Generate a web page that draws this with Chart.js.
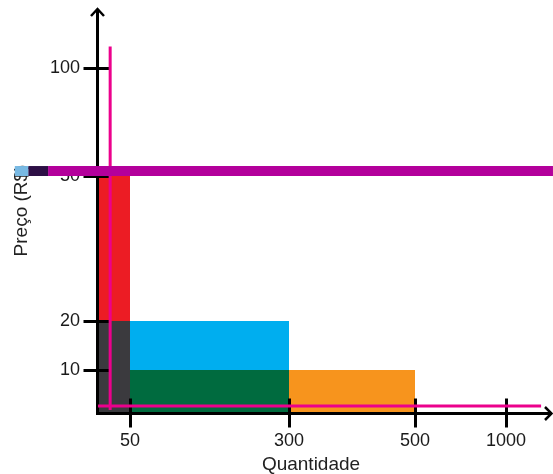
<!DOCTYPE html>
<html lang="pt-BR">
<head>
<meta charset="utf-8">
<title>Preço x Quantidade</title>
<script src="https://cdn.jsdelivr.net/npm/chart.js@4.4.1/dist/chart.umd.min.js"></script>
<style>
  html, body { margin: 0; padding: 0; background: #fff; }
  canvas { display: block; }
</style>
</head>
<body>
<canvas id="grafico" width="553" height="474"></canvas>
<script>
// Marcas dos eixos
const xTickValues = [50, 300, 500, 1000];
const yTickValues = [10, 20, 50, 100];

// Blocos de preço: quantidade inicial/final e preço inferior/superior
const blockNames = ['Vermelho', 'Cinza', 'Azul', 'Verde', 'Laranja'];
const blockQtyFrom = [0, 0, 50, 50, 300];
const blockQtyTo = [50, 50, 300, 300, 500];
const blockPriceFrom = [0, 0, 10, 0, 0];
const blockPriceTo = [50, 20, 20, 10, 10];

// Linhas rosa
const pinkVertQty = [19, 19];
const pinkVertPrice = [0.7, 110];
const pinkHorQty = [0, 1195];
const pinkHorPrice = [1.6, 1.6];

// Faixa magenta (pedaços consecutivos)
const bandQty = [-130, -109, -78, 1261];
const bandPrice = [52.3, 52.3];

// cores
const blockColors = ['#ec1c24', '#3b3a3e', '#00aeef', '#006b3f', '#f7941d'];
const blockOrder = [5, 3, 4, 4, 4];
const bandColors = ['#78b9e3', '#2d0f45', '#b3009b'];
const pink = '#ec008c';
const fontFamily = "'Liberation Sans', Arial, Helvetica, sans-serif";

// escala linear por trechos (os eixos do original não são lineares)
function pieceDecimal(value, breaks) {
    let i = 1;
    while (i < breaks.length - 1 && value > breaks[i][0]) i++;
    const [v0, d0] = breaks[i - 1];
    const [v1, d1] = breaks[i];
    return d0 + (value - v0) / (v1 - v0) * (d1 - d0);
}

function pieceValue(decimal, breaks) {
    let i = 1;
    while (i < breaks.length - 1 && decimal > breaks[i][1]) i++;
    const [v0, d0] = breaks[i - 1];
    const [v1, d1] = breaks[i];
    return v0 + (decimal - d0) / (d1 - d0) * (v1 - v0);
}

class PiecewiseScale extends Chart.LinearScale {
    static id = 'piecewise';
    static defaults = {};

    buildTicks() {
        return this.options.tickValues.map(v => ({ value: v }));
    }

    getPixelForValue(value) {
        return this.getPixelForDecimal(pieceDecimal(value, this.options.breaks));
    }

    getValueForPixel(pixel) {
        return pieceValue(this.getDecimalForPixel(pixel), this.options.breaks);
    }
}
Chart.register(PiecewiseScale);

function fixSize(scale, prop, size) {
    scale[prop] = size;
    // sem folga extra para os rótulos nas pontas
    scale.paddingTop = 0;
    scale.paddingBottom = 0;
    scale.paddingLeft = 0;
    scale.paddingRight = 0;
}

function drawAxes(chart) {
    const { ctx, chartArea, scales } = chart;
    const ox = chartArea.left - 0.5;
    const oy = chartArea.bottom + 0.5;

    ctx.save();
    ctx.strokeStyle = '#000';
    ctx.lineCap = 'butt';
    ctx.lineWidth = 3;

    ctx.beginPath();
    ctx.moveTo(ox, oy + 1.5);
    ctx.lineTo(ox, chartArea.top + 1);
    ctx.moveTo(ox - 1.5, oy);
    ctx.lineTo(chart.width - 1, oy);
    ctx.stroke();

    // marcas cruzando os eixos
    scales.y.ticks.forEach(t => {
        const py = Math.round(scales.y.getPixelForValue(t.value)) + 0.5;
        ctx.beginPath();
        ctx.moveTo(ox - 14, py);
        ctx.lineTo(ox + 13, py);
        ctx.stroke();
    });
    scales.x.ticks.forEach(t => {
        const px = Math.round(scales.x.getPixelForValue(t.value)) + 0.5;
        ctx.beginPath();
        ctx.moveTo(px, oy - 15);
        ctx.lineTo(px, oy + 14);
        ctx.stroke();
    });

    // setas
    ctx.lineWidth = 2.5;
    ctx.lineJoin = 'miter';
    ctx.beginPath();
    ctx.moveTo(ox - 6.5, chartArea.top + 8);
    ctx.lineTo(ox, chartArea.top + 1);
    ctx.lineTo(ox + 6.5, chartArea.top + 8);
    ctx.moveTo(chart.width - 8, oy - 6.5);
    ctx.lineTo(chart.width - 1.5, oy);
    ctx.lineTo(chart.width - 8, oy + 6.5);
    ctx.stroke();
    ctx.restore();
}

const axesPlugin = {
    id: 'eixos',
    beforeDatasetDraw(chart, args) {
        if (chart.data.datasets[args.index].label === 'Linha horizontal') {
            drawAxes(chart);
        }
    }
};

const datasets = [];

blockNames.forEach((name, i) => {
    datasets.push({
        label: name,
        data: [
            { x: blockQtyFrom[i], y: blockPriceTo[i] },
            { x: blockQtyTo[i], y: blockPriceTo[i] }
        ],
        fill: { value: blockPriceFrom[i] },
        backgroundColor: blockColors[i],
        borderColor: 'rgba(0,0,0,0)',
        borderWidth: 1,
        pointRadius: 0,
        order: blockOrder[i]
    });
});

datasets.push({
    label: 'Linha horizontal',
    data: pinkHorQty.map((q, i) => ({ x: q, y: pinkHorPrice[i] })),
    borderColor: pink,
    borderWidth: 3,
    pointRadius: 0,
    fill: false,
    clip: false,
    order: 2
});

datasets.push({
    label: 'Linha vertical',
    data: pinkVertQty.map((q, i) => ({ x: q, y: pinkVertPrice[i] })),
    borderColor: pink,
    borderWidth: 3,
    pointRadius: 0,
    fill: false,
    clip: false,
    order: 1
});

for (let i = 0; i < bandQty.length - 1; i++) {
    datasets.push({
        label: 'Faixa ' + (i + 1),
        data: [
            { x: bandQty[i], y: bandPrice[0] },
            { x: bandQty[i + 1], y: bandPrice[1] }
        ],
        borderColor: bandColors[i],
        borderWidth: 10,
        pointRadius: 0,
        fill: false,
        clip: false,
        order: 0
    });
}

new Chart(document.getElementById('grafico'), {
    type: 'line',
    data: { datasets },
    options: {
        responsive: false,
        animation: false,
        events: [],
        devicePixelRatio: 1,
        layout: { padding: { top: 8, right: 29, left: 0, bottom: 0 } },
        plugins: {
            legend: { display: false },
            tooltip: { enabled: false }
        },
        scales: {
            x: {
                type: 'piecewise',
                min: 0,
                max: 1100,
                breaks: [[0, 0], [50, 0.07512], [300, 0.44836], [500, 0.74413], [1000, 0.95775], [1100, 1]],
                tickValues: xTickValues,
                afterFit: (scale) => fixSize(scale, 'height', 61),
                border: { display: false },
                grid: { display: false, drawTicks: false },
                ticks: {
                    autoSkip: false,
                    maxRotation: 0,
                    padding: 17,
                    color: '#1a1a1a',
                    font: { family: fontFamily, size: 18 },
                    callback: (value) => String(value)
                },
                title: {
                    display: true,
                    text: 'Quantidade',
                    color: '#222',
                    font: { family: fontFamily, size: 19 },
                    padding: { top: 0, bottom: -2 }
                }
            },
            y: {
                type: 'piecewise',
                min: 0,
                max: 128,
                breaks: [[0, 0], [10, 0.10617], [20, 0.22716], [50, 0.58519], [100, 0.85185], [128, 1]],
                tickValues: yTickValues,
                afterFit: (scale) => fixSize(scale, 'width', 98),
                border: { display: false },
                grid: { display: false, drawTicks: false },
                ticks: {
                    autoSkip: false,
                    padding: 18,
                    color: '#1a1a1a',
                    font: { family: fontFamily, size: 18 },
                    callback: (value) => String(value)
                },
                title: {
                    display: true,
                    text: 'Preço (R$)',
                    color: '#222',
                    font: { family: fontFamily, size: 19 },
                    padding: { top: 10, bottom: 0 }
                }
            }
        }
    },
    plugins: [axesPlugin]
});
</script>
</body>
</html>
